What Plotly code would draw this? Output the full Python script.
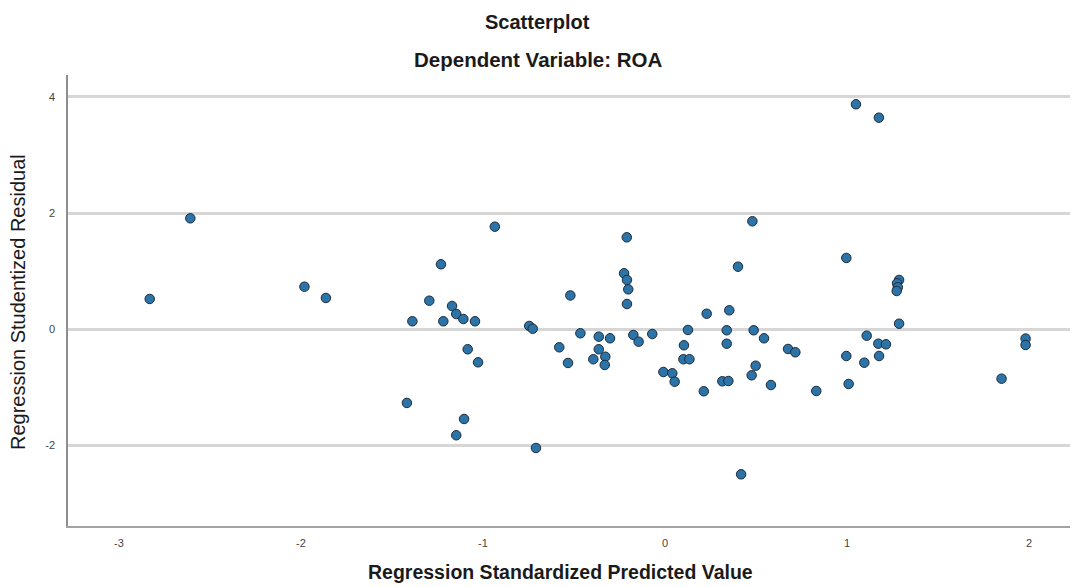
import plotly.graph_objects as go

# Regression Standardized Predicted Value (x) and Studentized Residual (y)
pred = [
    -2.831, -2.608, -1.981, -1.863,
    1.049, 1.175, 0.480, 0.996, 0.401,
    1.849, 1.981, 1.981, 0.418, -0.935,
    -1.231, -1.295, -1.388, -1.218, -1.170, -1.147, -1.108, -1.044,
    -0.746, -0.727, -1.084, -1.027, -0.581, -0.533, -0.520,
    -1.418, -1.104, -1.147, -0.709,
    -0.210, -0.225, -0.209, -0.202, -0.209, -0.465, -0.364, -0.302,
    -0.174, -0.145, -0.070, 0.126, -0.364, 0.104, -0.394, -0.328,
    -0.331, 0.101, 0.134, -0.009, 0.040, 0.053, 0.213, 0.229,
    0.353, 0.339, 0.487, 0.544, 0.339, 1.108, 1.172, 1.214,
    0.676, 0.716, 0.996, 1.176, 1.095, 0.498, 0.476, 0.315,
    0.348, 0.582, 0.831, 1.009, 1.286, 1.275, 1.279, 1.273, 1.286,
]
resid = [
    0.522, 1.910, 0.733, 0.539,
    3.873, 3.642, 1.859, 1.228, 1.077,
    -0.850, -0.160, -0.270, -2.496, 1.766,
    1.119, 0.492, 0.138, 0.138, 0.401, 0.263, 0.177, 0.138,
    0.057, 0.010, -0.344, -0.568, -0.310, -0.580, 0.582,
    -1.268, -1.544, -1.824, -2.043,
    1.583, 0.964, 0.849, 0.688, 0.435, -0.069, -0.127, -0.155,
    -0.098, -0.213, -0.081, -0.012, -0.344, -0.275, -0.516, -0.472,
    -0.614, -0.516, -0.516, -0.735, -0.757, -0.902, -1.067, 0.268,
    0.327, -0.017, -0.017, -0.155, -0.248, -0.110, -0.248, -0.258,
    -0.339, -0.396, -0.460, -0.460, -0.575, -0.627, -0.792, -0.895,
    -0.890, -0.959, -1.062, -0.941, 0.849, 0.792, 0.723, 0.659, 0.096,
]

x_tickvals = [-3, -2, -1, 0, 1, 2]
x_ticktext = ["-3", "-2", "-1", "0", "1", "2"]
y_tickvals = [-2, 0, 2, 4]
y_ticktext = ["-2", "0", "2", "4"]

title_text = "Scatterplot"
subtitle_text = "Dependent Variable: ROA"
x_title = "Regression Standardized Predicted Value"
y_title = "Regression Studentized Residual"

FONT = "Liberation Sans, Arial, sans-serif"

fig = go.Figure()
fig.add_trace(go.Scatter(
    x=pred, y=resid, mode="markers",
    marker=dict(size=9.5, color="#2c74a8", line=dict(color="#1c2b3b", width=1)),
    showlegend=False, hoverinfo="x+y",
))

W, H = 1072, 587
L, R, T, B = 68, 2, 75, 61
plot_w = W - L - R
plot_h = H - T - B

def px_x(px):
    return (px - L) / plot_w

def px_y(py):
    return (H - B - py) / plot_h

fig.update_layout(
    width=W, height=H,
    margin=dict(l=L, r=R, t=T, b=B),
    paper_bgcolor="white", plot_bgcolor="white",
    font=dict(family=FONT, color="#222"),
    xaxis=dict(
        range=[-3.280, 2.225],
        tickvals=x_tickvals, ticktext=x_ticktext,
        showgrid=False, zeroline=False,
        showline=True, linecolor="#a3a3a3", linewidth=2,
        ticks="", ticklabelstandoff=6,
        tickfont=dict(size=11, color="#444", family=FONT),
        fixedrange=True,
    ),
    yaxis=dict(
        range=[-3.386, 4.377],
        tickvals=y_tickvals, ticktext=y_ticktext,
        showgrid=True, gridcolor="#d6d6d6", gridwidth=2.5,
        zeroline=False,
        showline=True, linecolor="#8e8e8e", linewidth=1.5,
        ticks="", ticklabelstandoff=9,
        tickfont=dict(size=11, color="#444", family=FONT),
        fixedrange=True,
    ),
    annotations=[
        dict(text=f"<b>{title_text}</b>", xref="paper", yref="paper",
             x=px_x(537), y=px_y(22), xanchor="center", yanchor="middle",
             showarrow=False, font=dict(size=20, color="#1a1a1a", family=FONT)),
        dict(text=f"<b>{subtitle_text}</b>", xref="paper", yref="paper",
             x=px_x(538), y=px_y(59), xanchor="center", yanchor="middle",
             showarrow=False, font=dict(size=20.5, color="#1a1a1a", family=FONT)),
        dict(text=f"<b>{x_title}</b>", xref="paper", yref="paper",
             x=px_x(560), y=px_y(572), xanchor="center", yanchor="middle",
             showarrow=False, font=dict(size=19.5, color="#1a1a1a", family=FONT)),
        dict(text=y_title, xref="paper", yref="paper", textangle=-90,
             x=px_x(18), y=px_y(302), xanchor="center", yanchor="middle",
             showarrow=False, font=dict(size=20, color="#1a1a1a", family=FONT)),
    ],
)

fig.write_html(
    "out.html",
    config={"displayModeBar": False},
    post_script="document.body.style.margin='0';document.body.style.overflow='hidden';",
)
